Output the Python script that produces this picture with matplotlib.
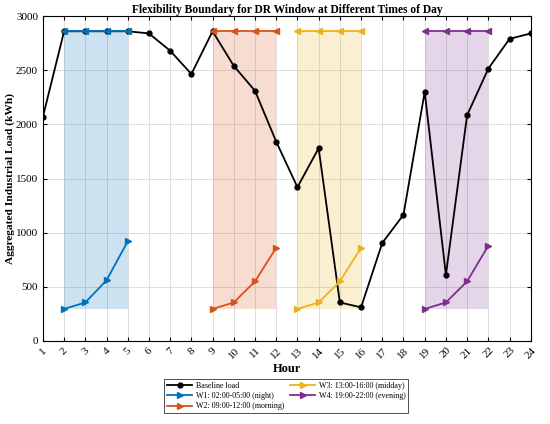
import matplotlib.pyplot as plt
import numpy as np

plt.rcParams['font.family'] = ['Liberation Serif', 'DejaVu Serif']

hours = list(range(1, 25))
baseline = [2070, 2860, 2860, 2860, 2860, 2840, 2680, 2465, 2860, 2540, 2310, 1840,
            1420, 1780, 355, 310, 905, 1165, 2300, 610, 2085, 2515, 2790, 2840]

# DR windows: hours, upper boundary, lower boundary
win_hours = [[2, 3, 4, 5], [9, 10, 11, 12], [13, 14, 15, 16], [19, 20, 21, 22]]
win_upper = [[2860, 2860, 2860, 2860]] * 4
win_lower = [[295, 355, 560, 920],
             [295, 355, 550, 860],
             [295, 355, 550, 860],
             [295, 355, 550, 880]]
win_labels = ['W1: 02:00-05:00 (night)', 'W2: 09:00-12:00 (morning)',
              'W3: 13:00-16:00 (midday)', 'W4: 19:00-22:00 (evening)']
colors = ['#0072BD', '#D95319', '#EDB120', '#7E2F8E']

fig = plt.figure(figsize=(5.5, 4.24), dpi=100)
ax = fig.add_axes([0.078, 0.196, 0.887, 0.766])

handles = []
h, = ax.plot(hours, baseline, '-o', color='black', lw=1.3, ms=3.5, label='Baseline load', zorder=3)
handles.append(h)
for hrs, up, lo, lab, c in zip(win_hours, win_upper, win_lower, win_labels, colors):
    ax.fill_between([hrs[0], hrs[-1]], min(lo), max(up), color=c, alpha=0.2, lw=0, zorder=1)
    ax.plot(hrs, up, '-<', color=c, lw=1.3, ms=5, zorder=4)
    h, = ax.plot(hrs, lo, '->', color=c, lw=1.3, ms=5, label=lab, zorder=4)
    handles.append(h)

ax.set_xlim(1, 24)
ax.set_ylim(0, 3000)
ax.set_xticks(hours)
ax.set_xticklabels([str(x) for x in hours], rotation=45)
ax.set_yticks(np.arange(0, 3001, 500))
ax.tick_params(direction='in', labelsize=8, length=3, top=True, right=True)
ax.grid(True, color='#d8d8d8', lw=0.6)
ax.set_axisbelow(True)
for s in ax.spines.values():
    s.set_linewidth(0.8)

ax.set_title('Flexibility Boundary for DR Window at Different Times of Day',
             fontsize=8.3, fontweight='bold', pad=2)
ax.set_xlabel('Hour', fontsize=9, fontweight='bold', labelpad=2)
ax.set_ylabel('Aggregated Industrial Load (kWh)', fontsize=8.2, fontweight='bold', labelpad=1)

leg = fig.legend(handles=handles, loc='center', bbox_to_anchor=(0.52, 0.066), ncol=2,
                 fontsize=5.8, frameon=True, fancybox=False, edgecolor='black',
                 handlelength=3.2, columnspacing=0.7, labelspacing=0.3,
                 borderpad=0.3, handletextpad=0.4)
leg.get_frame().set_linewidth(0.6)

fig.savefig('out.png', dpi=100)
